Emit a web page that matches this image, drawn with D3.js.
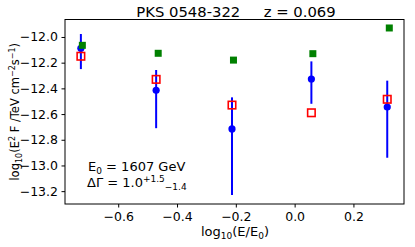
<!DOCTYPE html>
<html>
<head>
<meta charset="utf-8">
<script src="https://cdn.jsdelivr.net/npm/d3@7"></script>
<style>
  body { margin: 0; background: #fff; }
  text { font-family: "DejaVu Sans", sans-serif; fill: #000; }
</style>
</head>
<body>
<svg id="chart" width="415" height="247"></svg>
<script>
// Measured points (blue, with error bars)
const logE = [-0.727, -0.471, -0.213, 0.057, 0.315];
const flux = [-12.088, -12.415, -12.716, -12.327, -12.545];
const fluxHi = [-11.977, -12.257, -12.47, -12.19, -12.34];
const fluxLo = [-12.25, -12.71, -13.23, -12.52, -12.94];
// Model A (green filled squares)
const logEGreen = [-0.722, -0.464, -0.208, 0.062, 0.322];
const fluxGreen = [-12.065, -12.127, -12.18, -12.13, -11.93];
// Model B (red open squares)
const fluxRed = [-12.15, -12.33, -12.53, -12.59, -12.485];

const xTicks = [-0.6, -0.4, -0.2, 0.0, 0.2];
const yTicks = [-12.0, -12.2, -12.4, -12.6, -12.8, -13.0, -13.2];

const margin = { top: 19.5, right: 11, bottom: 43, left: 65 };
const width = 415 - margin.left - margin.right;
const height = 247 - margin.top - margin.bottom;

const svg = d3.select('#chart');
const g = svg.append('g').attr('transform', `translate(${margin.left}, ${margin.top})`);

const x = d3.scaleLinear().domain([-0.781, 0.372]).range([0, width]);
const y = d3.scaleLinear().domain([-13.30, -11.864]).range([height, 0]);

const fmt = (d) => d3.format('.1f')(d).replace('-', '\u2212');

// X axis
const xAxis = g.append('g')
  .attr('transform', `translate(0, ${height})`)
  .call(d3.axisBottom(x).tickValues(xTicks).tickFormat(fmt).tickSizeOuter(0).tickSize(3.5).tickPadding(5));
xAxis.select('.domain').remove();
xAxis.selectAll('text').style('font-size', '12.5px').style('font-family', 'DejaVu Sans');

// Y axis
const yAxis = g.append('g')
  .call(d3.axisLeft(y).tickValues(yTicks).tickFormat((d) => d3.format('.1f')(d)).tickSizeOuter(0).tickSize(3.5).tickPadding(3.5));
yAxis.select('.domain').remove();
yAxis.selectAll('text').style('font-size', '12.5px').style('font-family', 'DejaVu Sans');

// Frame
g.append('rect')
  .attr('width', width)
  .attr('height', height)
  .attr('fill', 'none')
  .attr('stroke', '#000')
  .attr('stroke-width', 1);

// Error bars
g.selectAll('line.err')
  .data(logE)
  .enter()
  .append('line')
  .classed('err', true)
  .attr('x1', (d) => x(d))
  .attr('x2', (d) => x(d))
  .attr('y1', (d, i) => y(fluxHi[i]))
  .attr('y2', (d, i) => y(fluxLo[i]))
  .attr('stroke', '#0000ff')
  .attr('stroke-width', 2);

// Blue points
g.selectAll('circle.pt')
  .data(logE)
  .enter()
  .append('circle')
  .classed('pt', true)
  .attr('cx', (d) => x(d))
  .attr('cy', (d, i) => y(flux[i]))
  .attr('r', 3.6)
  .attr('fill', '#0000ff');

// Green squares
const gs = 7;
g.selectAll('rect.green')
  .data(logEGreen)
  .enter()
  .append('rect')
  .classed('green', true)
  .attr('x', (d) => x(d) - gs / 2)
  .attr('y', (d, i) => y(fluxGreen[i]) - gs / 2)
  .attr('width', gs)
  .attr('height', gs)
  .attr('fill', '#008000');

// Red open squares
const rs = 7.5;
g.selectAll('rect.red')
  .data(logE)
  .enter()
  .append('rect')
  .classed('red', true)
  .attr('x', (d) => x(d) - rs / 2)
  .attr('y', (d, i) => y(fluxRed[i]) - rs / 2)
  .attr('width', rs)
  .attr('height', rs)
  .attr('fill', 'none')
  .attr('stroke', '#ff0000')
  .attr('stroke-width', 1.6);

// Title
svg.append('text')
  .attr('x', 236)
  .attr('y', 17)
  .attr('text-anchor', 'middle')
  .style('font-size', '14.8px')
  .style('white-space', 'pre')
  .text('PKS 0548-322     z = 0.069');

// Annotations
const ann = svg.append('text')
  .attr('x', 88)
  .attr('y', 171)
  .style('font-size', '13px');
ann.append('tspan').text('E');
ann.append('tspan').attr('dy', 3).style('font-size', '9px').text('0');
ann.append('tspan').attr('dy', -3).text(' = 1607 GeV');

const ann2 = svg.append('text')
  .attr('x', 87)
  .attr('y', 186.5)
  .style('font-size', '13px');
ann2.append('tspan').text('\u0394\u0393 = 1.0');
ann2.append('tspan').attr('dy', -5).style('font-size', '9px').text('+1.5');
ann2.append('tspan').attr('dy', 8).style('font-size', '9px').text('\u22121.4');

// X label
const xl = svg.append('text')
  .attr('x', 235)
  .attr('y', 236)
  .attr('text-anchor', 'middle')
  .style('font-size', '13px');
xl.append('tspan').text('log');
xl.append('tspan').attr('dy', 3).style('font-size', '9px').text('10');
xl.append('tspan').attr('dy', -3).text('(E/E');
xl.append('tspan').attr('dy', 3).style('font-size', '9px').text('0');
xl.append('tspan').attr('dy', -3).text(')');

// Y label
const yl = svg.append('text')
  .attr('transform', `translate(19, ${margin.top + height / 2}) rotate(-90)`)
  .attr('text-anchor', 'middle')
  .style('font-size', '11.5px');
yl.append('tspan').text('log');
yl.append('tspan').attr('dy', 3).style('font-size', '8px').text('10');
yl.append('tspan').attr('dy', -3).text('(E');
yl.append('tspan').attr('dy', -4).style('font-size', '8px').text('2');
yl.append('tspan').attr('dy', 4).text(' F /TeV cm');
yl.append('tspan').attr('dy', -4).style('font-size', '8px').text('\u22122');
yl.append('tspan').attr('dy', 4).text('s');
yl.append('tspan').attr('dy', -4).style('font-size', '8px').text('\u22121');
yl.append('tspan').attr('dy', 4).text(')');
</script>
</body>
</html>
